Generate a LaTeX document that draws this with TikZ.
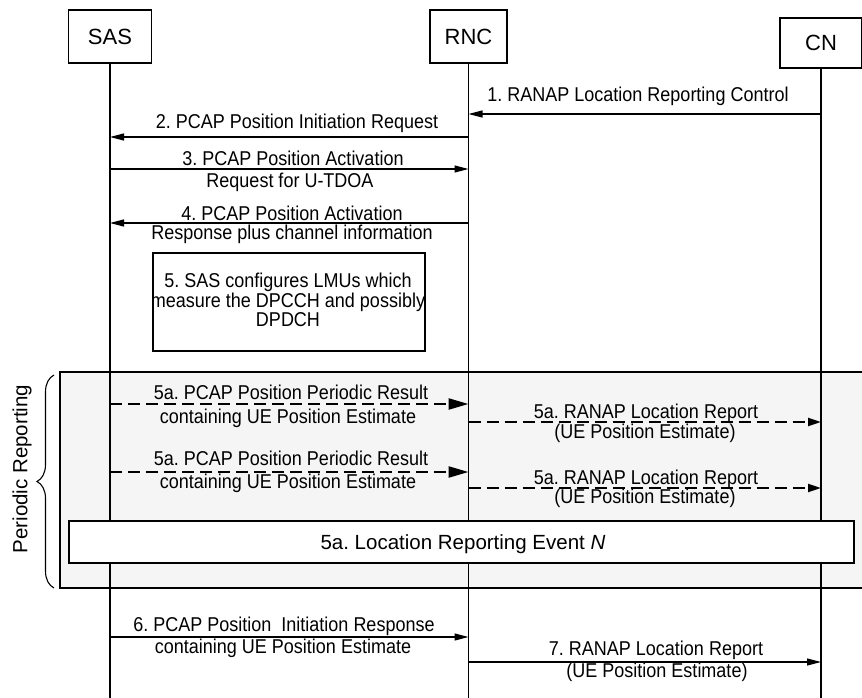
\documentclass[tikz,border=0pt]{standalone}
\usepackage{fontspec}
\setmainfont{Liberation Sans}
\newfontfamily\condfont[FakeStretch=0.9]{Liberation Sans}
\usetikzlibrary{arrows.meta,decorations.pathreplacing}
\definecolor{pgray}{RGB}{245,245,245}
\frenchspacing
\begin{document}
\begin{tikzpicture}[x=1pt,y=-1pt,
  ent/.style={draw, line width=1.2pt, fill=white, minimum height=53pt, inner sep=0pt, font=\fontsize{22}{24}\selectfont},
  life/.style={line width=1.2pt},
  msg/.style={anchor=base, inner sep=0pt, font=\condfont\fontsize{20}{20}\selectfont},
  solidarrow/.style={line width=1.2pt, -{Triangle[length=14pt,width=7pt]}},
  dashbig/.style={line width=2.4pt, dash pattern=on 12pt off 6pt, -{Triangle[length=20pt,width=11pt]}},
  dashsmall/.style={line width=2.2pt, dash pattern=on 12pt off 6pt, -{Triangle[length=13pt,width=8pt]}},
  boxstyle/.style={draw, line width=1.2pt, fill=white, inner sep=0pt}
]
\useasboundingbox (0,0) rectangle (862,698);

% periodic reporting region
\node[draw, line width=1.2pt, fill=pgray, minimum width=820pt, minimum height=216pt, inner sep=0pt] (preg) at (470,480) {};
\draw[line width=1.1pt, decorate, decoration={brace, amplitude=17pt}] (54,588) -- (54,375);
\node[rotate=90, inner sep=0pt, font=\fontsize{20.5}{22}\selectfont] (plabel) at (22,469) {Periodic Reporting};

% entities
\node[ent, minimum width=83pt] (sas) at (110,36.5) {SAS};
\node[ent, minimum width=77pt] (rnc) at (468.5,36.5) {RNC};
\node[ent, minimum width=82pt, minimum height=50pt] (cn) at (821,43) {CN};

\coordinate (sasbot) at (110,700);
\coordinate (rncbot) at (468.5,700);
\coordinate (cnbot) at (821,700);
\draw[life] (sas.south) -- (sasbot);
\draw[life] (rnc.south) -- (rncbot);
\draw[life] (cn.south) -- (cnbot);

% 1
\coordinate (c1) at (821,114); \coordinate (r1) at (468.5,114);
\draw[solidarrow] (c1) -- (r1);
\node[msg] (l1) at (638,102) {1. RANAP Location Reporting Control};
% 2
\coordinate (r2) at (468.5,137); \coordinate (s2) at (110,137);
\draw[solidarrow] (r2) -- (s2);
\node[msg] (l2) at (297,129) {2. PCAP Position Initiation Request};
% 3
\coordinate (s3) at (110,169); \coordinate (r3) at (468.5,169);
\draw[solidarrow] (s3) -- (r3);
\node[msg] (l3a) at (293,165) {3. PCAP Position Activation};
\node[msg] (l3b) at (290,187) {Request for U-TDOA};
% 4
\coordinate (r4) at (468.5,223); \coordinate (s4) at (110,223);
\draw[solidarrow] (r4) -- (s4);
\node[msg] (l4a) at (292,220) {4. PCAP Position Activation};
\node[msg] (l4b) at (292,239) {Response plus channel information};
% 5 box
\node[boxstyle, minimum width=272pt, minimum height=98pt] (b5) at (289,302) {};
\node[inner sep=0pt, align=center, font=\condfont\fontsize{20}{18}\selectfont] (b5t) at (288,300) {5. SAS configures LMUs which\\measure the DPCCH and possibly\\DPDCH};

% 5a first
\coordinate (s5a) at (110,404); \coordinate (r5a) at (468.5,404);
\draw[dashbig] (s5a) -- (r5a);
\node[msg] (l5a1) at (291,399) {5a. PCAP Position Periodic Result};
\node[msg] (l5a2) at (288,423) {containing UE Position Estimate};
\coordinate (r5b) at (468.5,422); \coordinate (c5b) at (821,422);
\draw[dashsmall] (r5b) -- (c5b);
\node[msg] (l5b1) at (646,418) {5a. RANAP Location Report};
\node[msg] (l5b2) at (645,438) {(UE Position Estimate)};
% 5a second
\coordinate (s5c) at (110,472); \coordinate (r5c) at (468.5,472);
\draw[dashbig] (s5c) -- (r5c);
\node[msg] (l5c1) at (291,465) {5a. PCAP Position Periodic Result};
\node[msg] (l5c2) at (288,488) {containing UE Position Estimate};
\coordinate (r5d) at (468.5,488); \coordinate (c5d) at (821,488);
\draw[dashsmall] (r5d) -- (c5d);
\node[msg] (l5d1) at (646,484) {5a. RANAP Location Report};
\node[msg] (l5d2) at (645,503) {(UE Position Estimate)};
% event N
\node[boxstyle, minimum width=785pt, minimum height=42pt] (evn) at (461.5,542) {};
\node[anchor=base, inner sep=0pt, font=\fontsize{20.5}{22}\selectfont] (evnt) at (463,549) {5a. Location Reporting Event \textit{N}};

% 6
\coordinate (s6) at (110,637); \coordinate (r6) at (468.5,637);
\draw[solidarrow] (s6) -- (r6);
\node[msg] (l6a) at (284,631) {6. PCAP Position~ Initiation Response};
\node[msg] (l6b) at (283,653) {containing UE Position Estimate};
% 7
\coordinate (r7) at (468.5,662); \coordinate (c7) at (821,662);
\draw[solidarrow] (r7) -- (c7);
\node[msg] (l7a) at (656,655) {7. RANAP Location Report};
\node[msg] (l7b) at (657,677) {(UE Position Estimate)};
\end{tikzpicture}
\end{document}
